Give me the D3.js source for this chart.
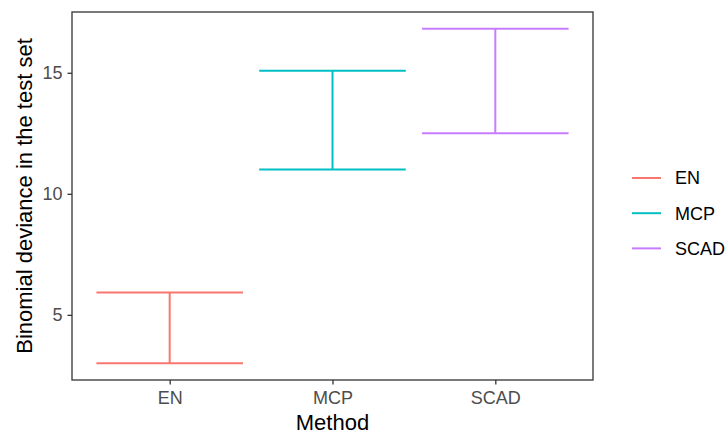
<!DOCTYPE html>
<html>
<head>
<meta charset="utf-8">
<script src="https://cdn.jsdelivr.net/npm/d3@7"></script>
<style>
  body { margin: 0; background: #fff; }
  text { font-family: "Liberation Sans", Arial, sans-serif; }
</style>
</head>
<body>
<svg id="chart" width="728" height="435"></svg>
<script>
var methods = ["EN", "MCP", "SCAD"];
var lower = [3.0, 11.0, 12.5];
var upper = [5.92, 15.08, 16.82];
var colors = ["#F8766D", "#00BFC4", "#C77CFF"];
var yTicks = [5, 10, 15];

var svg = d3.select("#chart"),
    margin = {left: 72, top: 12, right: 135, bottom: 55},
    width = +svg.attr("width") - margin.left - margin.right,
    height = +svg.attr("height") - margin.top - margin.bottom;

// discrete x with ggplot style 0.6 expansion
var x = d3.scaleLinear()
    .domain([1 - 0.6, methods.length + 0.6])
    .range([0, width]);

var yMin = d3.min(lower), yMax = d3.max(upper), pad = (yMax - yMin) * 0.05;
var y = d3.scaleLinear()
    .domain([yMin - pad, yMax + pad])
    .range([height, 0]);

var color = d3.scaleOrdinal().domain(methods).range(colors);

var g = svg.append("g")
    .attr("transform", "translate(" + margin.left + "," + margin.top + ")");

var bars = methods.map(function(m, i) {
  return {method: m, pos: i + 1, lo: lower[i], hi: upper[i]};
});

var eb = g.selectAll(".errorbar")
  .data(bars)
  .enter().append("g")
    .attr("class", "errorbar")
    .style("stroke", function(d) { return color(d.method); })
    .style("stroke-width", 2)
    .style("fill", "none");

eb.append("line")
    .attr("x1", function(d) { return x(d.pos); })
    .attr("x2", function(d) { return x(d.pos); })
    .attr("y1", function(d) { return y(d.lo); })
    .attr("y2", function(d) { return y(d.hi); });

eb.append("line")
    .attr("x1", function(d) { return x(d.pos - 0.45); })
    .attr("x2", function(d) { return x(d.pos + 0.45); })
    .attr("y1", function(d) { return y(d.hi); })
    .attr("y2", function(d) { return y(d.hi); });

eb.append("line")
    .attr("x1", function(d) { return x(d.pos - 0.45); })
    .attr("x2", function(d) { return x(d.pos + 0.45); })
    .attr("y1", function(d) { return y(d.lo); })
    .attr("y2", function(d) { return y(d.lo); });

// panel border
g.append("rect")
    .attr("width", width)
    .attr("height", height)
    .style("fill", "none")
    .style("stroke", "#333")
    .style("stroke-width", 1.3);

var xAxis = g.append("g")
    .attr("transform", "translate(0," + height + ")")
    .call(d3.axisBottom(x).tickValues(d3.range(1, methods.length + 1))
      .tickFormat(function(d) { return methods[d - 1]; })
      .tickSize(4.5).tickPadding(7));

var yAxis = g.append("g")
    .call(d3.axisLeft(y).tickValues(yTicks).tickSize(4.5).tickPadding(5));

[xAxis, yAxis].forEach(function(a) {
  a.select(".domain").remove();
  a.selectAll(".tick line").style("stroke", "#333").style("stroke-width", 1.3);
  a.selectAll(".tick text").style("fill", "#4d4d4d").style("font-size", "18px");
});

svg.append("text")
    .attr("x", margin.left + width / 2)
    .attr("y", 430)
    .attr("text-anchor", "middle")
    .style("font-size", "22px")
    .style("fill", "#000")
    .text("Method");

svg.append("text")
    .attr("transform", "translate(32," + (margin.top + height / 2) + ") rotate(-90)")
    .attr("text-anchor", "middle")
    .style("font-size", "22px")
    .style("fill", "#000")
    .text("Binomial deviance in the test set");

// legend
var legend = svg.append("g")
    .attr("transform", "translate(632,178)");

var item = legend.selectAll(".item")
  .data(methods)
  .enter().append("g")
    .attr("class", "item")
    .attr("transform", function(d, i) { return "translate(0," + i * 35.2 + ")"; });

item.append("line")
    .attr("x1", 0).attr("x2", 29)
    .style("stroke", function(d) { return color(d); })
    .style("stroke-width", 2);

item.append("text")
    .attr("x", 43)
    .attr("dy", "0.35em")
    .style("font-size", "18px")
    .style("fill", "#000")
    .text(function(d) { return d; });
</script>
</body>
</html>
